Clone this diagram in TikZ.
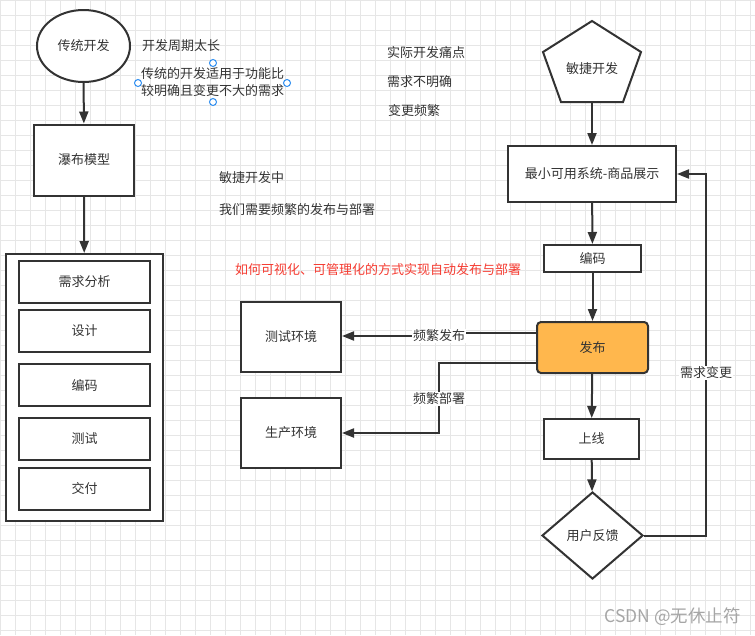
\documentclass[tikz,border=0pt]{standalone}
\usepackage{fontspec}
\setmainfont{Noto Sans CJK SC}
\usetikzlibrary{shapes.geometric,arrows.meta}
\definecolor{ln}{HTML}{333333}
\definecolor{gridc}{HTML}{E6E6E6}
\definecolor{orng}{HTML}{FFB74D}
\definecolor{redt}{HTML}{F53C32}
\definecolor{hnd}{HTML}{2B8CF0}
\definecolor{wm}{HTML}{A6A6A6}
\tikzset{
  box/.style={draw=ln, line width=2pt, fill=white, inner sep=0pt, text=ln, font=\fontsize{13}{15}\selectfont},
  txt/.style={anchor=west, inner sep=0pt, text=ln, font=\fontsize{13}{15}\selectfont},
  lbl/.style={fill=white, inner sep=1pt, text=ln, font=\fontsize{13}{15}\selectfont},
  arr/.style={draw=ln, line width=2pt, -{Triangle[length=12pt,width=9pt]}},
  plainln/.style={draw=ln, line width=2pt},
  handle/.style={draw=hnd, line width=1pt, fill=white},
}
\begin{document}
\begin{tikzpicture}[x=1pt,y=-1pt]
\useasboundingbox (0,0) rectangle (755,635);
\fill[white] (0,0) rectangle (755,635);
\foreach \i in {0,15,...,750} \draw[gridc, line width=1pt] (\i,0) -- (\i,635);
\foreach \j in {0,15,...,630} \draw[gridc, line width=1pt] (0,\j) -- (755,\j);

% left column
\node[box, ellipse, minimum width=93pt, minimum height=72pt] (trad) at (83.5,46) {传统开发};
\node[box, minimum width=100pt, minimum height=71pt] (water) at (84,160) {瀑布模型};
\node[box, minimum width=157pt, minimum height=267pt] (cont) at (84.5,387.5) {};
\node[box, minimum width=131pt, minimum height=42pt] (s1) at (84.5,282) {需求分析};
\node[box, minimum width=131pt, minimum height=42pt] (s2) at (84.5,331) {设计};
\node[box, minimum width=131pt, minimum height=42pt] (s3) at (84.5,385) {编码};
\node[box, minimum width=131pt, minimum height=42pt] (s4) at (84.5,439) {测试};
\node[box, minimum width=131pt, minimum height=42pt] (s5) at (84.5,489) {交付};
\draw[arr] (trad) -- (water);
\draw[arr] (water) -- (cont);

% free texts
\node[txt] (t1) at (142,46) {开发周期太长};
\node[txt, align=left, font=\fontsize{13}{17}\selectfont] (t2) at (141,82.5) {传统的开发适用于功能比\\较明确且变更不大的需求};
\draw[handle] (213,63) circle (3.5);
\draw[handle] (213,102) circle (3.5);
\draw[handle] (138,83) circle (3.5);
\draw[handle] (287,83) circle (3.5);
\node[txt] (t3) at (387,53) {实际开发痛点};
\node[txt] (t4) at (387,82) {需求不明确};
\node[txt] (t5) at (388,111) {变更频繁};
\node[txt] (t6) at (219,178) {敏捷开发中};
\node[txt] (t7) at (219,210) {我们需要频繁的发布与部署};
\node[txt, text=redt] (t8) at (235,270) {如何可视化、可管理化的方式实现自动发布与部署};

% right column
\draw[ln, line width=2pt, fill=white, line join=miter] (592,21) -- (641,52) -- (623,102) -- (561,102) -- (543,52) -- cycle;
\node[txt, anchor=center] (agile) at (592,69) {敏捷开发};
\coordinate (agileb) at (592,102);
\node[box, minimum width=168pt, minimum height=56pt] (mvp) at (592,174) {最小可用系统-商品展示};
\node[box, minimum width=97pt, minimum height=27pt] (code) at (592.5,258.5) {编码};
\node[box, fill=orng, rounded corners=4pt, minimum width=111pt, minimum height=51pt] (pub) at (592.5,347.5) {发布};
\node[box, minimum width=95pt, minimum height=40pt] (online) at (591.5,439) {上线};
\node[box, diamond, minimum width=101pt, minimum height=87pt] (fbk) at (592.5,535.5) {用户反馈};
\draw[arr] (agileb) -- (mvp);
\draw[arr] (mvp) -- (code);
\draw[arr] (code) -- (pub);
\draw[arr] (pub) -- (online);
\draw[arr] (online) -- (fbk);
\coordinate (loop) at (706,535.5);
\draw[arr] (fbk.east) -- (loop) |- (mvp.east);
\node[lbl] (chg) at (706,373) {需求变更};

% environments
\node[box, minimum width=100pt, minimum height=70pt] (test) at (291,337) {测试环境};
\node[box, minimum width=100pt, minimum height=70pt] (prod) at (291,433) {生产环境};
\coordinate (fbp) at (439,336);
\coordinate (fdp) at (439,399);
\draw[arr] ([yshift=15pt]pub.west) -| (fbp) -- (fbp -| test.east);
\draw[arr] ([yshift=-15pt]pub.west) -| (fdp) |- (prod.east);
\node[lbl] (lfb) at (fbp) {频繁发布};
\node[lbl] (lfd) at (fdp) {频繁部署};

% watermark
\node[anchor=east, inner sep=0pt, text=wm, font=\fontsize{17.5}{20}\selectfont] (wmk) at (741,617) {CSDN @无休止符};
\end{tikzpicture}
\end{document}
